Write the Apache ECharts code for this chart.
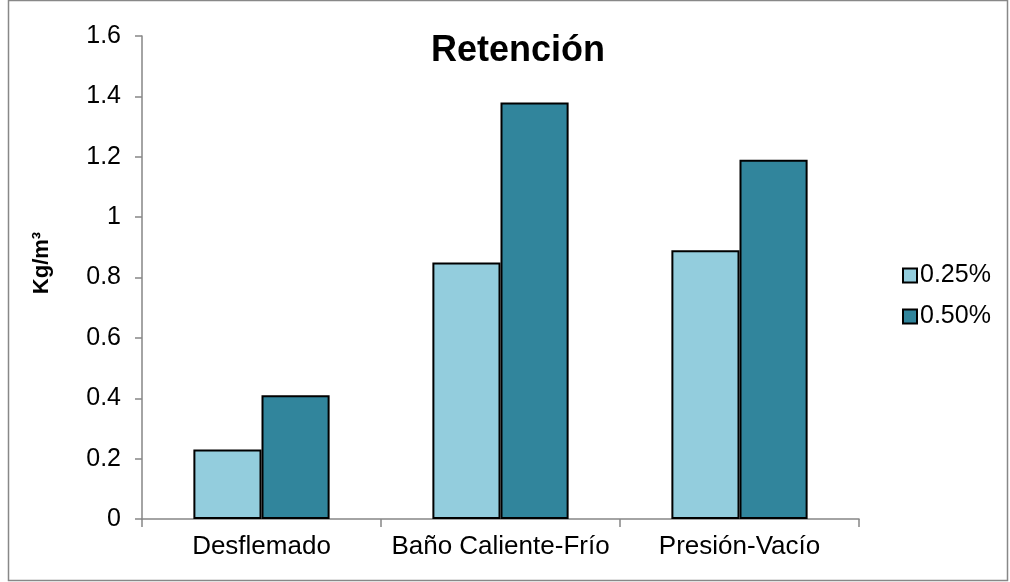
<!DOCTYPE html>
<html>
<head>
<meta charset="utf-8">
<script src="https://cdn.jsdelivr.net/npm/echarts@6/dist/echarts.min.js"></script>
<style>
  html, body { margin: 0; padding: 0; background: #fff; }
  #chart { width: 1010px; height: 582px; }
</style>
</head>
<body>
<div id="chart"></div>
<script>
// Retention by treatment method and concentration
const categories = ['Desflemado', 'Baño Caliente-Frío', 'Presión-Vacío'];
const seriesNames = ['0.25%', '0.50%'];
const values025 = [0.23, 0.85, 0.89];
const values050 = [0.41, 1.38, 1.19];
const chartTitle = 'Retención';
const yAxisTitle = 'Kg/m³';

const FONT = '"Liberation Sans", Arial, sans-serif';
const axisGray = '#868686';

const chart = echarts.init(document.getElementById('chart'), null, { renderer: 'canvas' });

chart.setOption({
  animation: false,
  backgroundColor: '#ffffff',
  title: {
    text: chartTitle,
    left: 513,
    top: 28,
    textAlign: 'center',
    textStyle: { fontFamily: FONT, fontSize: 36, fontWeight: 'bold', color: '#000' }
  },
  legend: {
    orient: 'vertical',
    left: 897,
    top: 258,
    icon: 'rect',
    itemWidth: 14,
    itemHeight: 14,
    itemGap: 16,
    textStyle: { fontFamily: FONT, fontSize: 25, color: '#000', padding: [0, 0, 0, -2] },
    data: seriesNames
  },
  grid: { left: 142, right: 151, top: 36, bottom: 63, containLabel: false },
  xAxis: {
    type: 'category',
    data: categories,
    axisLine: { lineStyle: { color: axisGray, width: 1.5 } },
    axisTick: { show: true, length: 8, lineStyle: { color: axisGray, width: 1.5 } },
    axisLabel: { interval: 0, fontFamily: FONT, fontSize: 26, color: '#000', margin: 15 }
  },
  yAxis: {
    type: 'value',
    min: 0,
    max: 1.6,
    interval: 0.2,
    axisLine: { show: true, lineStyle: { color: axisGray, width: 1.5 } },
    axisTick: { show: true, length: 7, lineStyle: { color: axisGray, width: 1.5 } },
    splitLine: { show: false },
    axisLabel: { fontFamily: FONT, fontSize: 25, color: '#000', margin: 21 }
  },
  graphic: [
    {
      type: 'rect',
      shape: { x: 8.5, y: 0.5, width: 999, height: 580 },
      style: { fill: 'none', stroke: '#888888', lineWidth: 1.5 },
      silent: true
    },
    {
      type: 'text',
      x: 42,
      y: 263,
      rotation: Math.PI / 2,
      style: {
        text: yAxisTitle,
        font: 'bold 22px ' + FONT,
        fill: '#000',
        align: 'center',
        verticalAlign: 'middle'
      }
    }
  ],
  series: [
    {
      name: seriesNames[0],
      type: 'bar',
      data: values025,
      barGap: '0%',
      barCategoryGap: '43%',
      itemStyle: { color: '#93CDDD', borderColor: '#000', borderWidth: 2 }
    },
    {
      name: seriesNames[1],
      type: 'bar',
      data: values050,
      barGap: '0%',
      barCategoryGap: '43%',
      itemStyle: { color: '#31859C', borderColor: '#000', borderWidth: 2 }
    }
  ]
});
</script>
</body>
</html>
